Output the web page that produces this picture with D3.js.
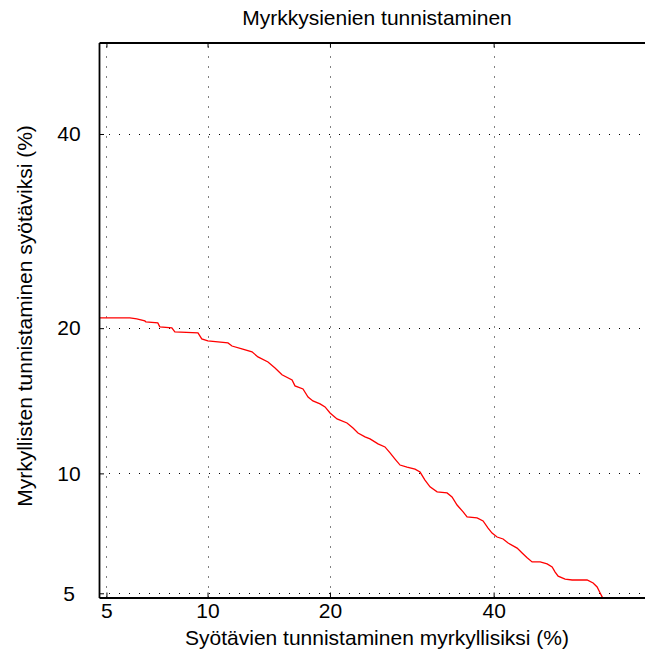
<!DOCTYPE html>
<html>
<head>
<meta charset="utf-8">
<script src="https://cdn.jsdelivr.net/npm/d3@7/dist/d3.min.js"></script>
<style>
  html, body { margin: 0; padding: 0; background: #fff; }
  svg { display: block; font-family: "Liberation Sans", Arial, Helvetica, sans-serif; }
</style>
</head>
<body>
<svg id="chart" width="645" height="655"></svg>
<script>
// DET curve: false alarm rate (edible called poisonous) vs miss rate (poisonous called edible), in percent
const falseAlarmPct = [4.6, 5.93, 6.23, 6.59, 6.64, 7.21, 7.31, 7.93, 8.09, 9.41, 9.64, 10.02, 11.35, 11.63, 12.34,
  13.10, 13.56, 14.36, 14.94, 15.53, 16.41, 16.67, 17.40, 17.87, 18.33, 19.02, 19.51, 20.01, 20.72, 21.76, 22.40,
  22.94, 23.71, 24.27, 25.18, 25.98, 26.58, 27.17, 27.77, 28.62, 29.60, 30.23, 30.85, 31.49, 32.40, 33.70, 34.35,
  35.02, 35.83, 36.36, 37.72, 38.54, 39.23, 39.78, 40.48, 41.32, 42.02, 43.29, 44.00, 44.71, 45.42, 46.57, 47.56,
  48.28, 48.71, 49.14, 50.14, 51.15, 53.29, 54.15, 54.72, 55.15, 55.43, 55.6];
const missPct = [20.88, 20.88, 20.80, 20.62, 20.54, 20.45, 20.11, 20.02, 19.68, 19.60, 19.10, 18.94, 18.77, 18.52,
  18.29, 18.05, 17.65, 17.26, 16.80, 16.28, 15.90, 15.47, 15.25, 14.68, 14.41, 14.21, 14.00, 13.60, 13.21, 12.95,
  12.63, 12.32, 12.08, 11.96, 11.66, 11.48, 11.13, 10.78, 10.45, 10.34, 10.23, 10.07, 9.65, 9.30, 9.05, 9.00, 8.80,
  8.42, 8.10, 7.88, 7.83, 7.70, 7.39, 7.18, 7.02, 6.94, 6.78, 6.58, 6.39, 6.21, 6.06, 6.06, 5.99, 5.88, 5.70, 5.56,
  5.46, 5.43, 5.43, 5.33, 5.20, 5.01, 4.89, 4.8];

const tickValuesPct = [5, 10, 20, 40];
const tickLabels = ["5", "10", "20", "40"];
const xLimitsPct = [4.73, 62.8];
const yLimitsPct = [4.87, 50.95];

const titleText = "Myrkkysienien tunnistaminen";
const xTitle = "Syötävien tunnistaminen myrkyllisiksi (%)";
const yTitle = "Myrkyllisten tunnistaminen syötäviksi (%)";

// inverse standard normal CDF (Acklam's rational approximation)
function probit(p) {
  const a = [-3.969683028665376e+01, 2.209460984245205e+02, -2.759285104469687e+02, 1.383577518672690e+02, -3.066479806614716e+01, 2.506628277459239e+00];
  const b = [-5.447609879822406e+01, 1.615858368580409e+02, -1.556989798598866e+02, 6.680131188771972e+01, -1.328068155288572e+01];
  const c = [-7.784894002430293e-03, -3.223964580411365e-01, -2.400758277161838e+00, -2.549732539343734e+00, 4.374664141464968e+00, 2.938163982698783e+00];
  const d = [7.784695709041462e-03, 3.224671290700398e-01, 2.445134137142996e+00, 3.754408661907416e+00];
  const pl = 0.02425, ph = 1 - pl;
  let q, r;
  if (p < pl) {
    q = Math.sqrt(-2 * Math.log(p));
    return (((((c[0]*q + c[1])*q + c[2])*q + c[3])*q + c[4])*q + c[5]) / ((((d[0]*q + d[1])*q + d[2])*q + d[3])*q + 1);
  }
  if (p <= ph) {
    q = p - 0.5; r = q * q;
    return (((((a[0]*r + a[1])*r + a[2])*r + a[3])*r + a[4])*r + a[5])*q / (((((b[0]*r + b[1])*r + b[2])*r + b[3])*r + b[4])*r + 1);
  }
  q = Math.sqrt(-2 * Math.log(1 - p));
  return -(((((c[0]*q + c[1])*q + c[2])*q + c[3])*q + c[4])*q + c[5]) / ((((d[0]*q + d[1])*q + d[2])*q + d[3])*q + 1);
}
const z = pct => probit(pct / 100);

const plot = { left: 99, top: 42.5, right: 655, bottom: 597.5 };

// normal-deviate scales
const xScale = d3.scaleLinear().domain(xLimitsPct.map(z)).range([plot.left, plot.right]);
const yScale = d3.scaleLinear().domain(yLimitsPct.map(z)).range([plot.bottom, plot.top]);
const tickZ = tickValuesPct.map(z);

const svg = d3.select("#chart");

svg.append("defs").append("clipPath").attr("id", "plotClip")
  .append("rect")
  .attr("x", plot.left).attr("y", plot.top)
  .attr("width", plot.right - plot.left).attr("height", plot.bottom - plot.top);

// dotted grid
const grid = svg.append("g").attr("stroke", "#000").attr("stroke-width", 1).attr("stroke-dasharray", "1,9");
grid.selectAll("line.gx").data(tickZ).join("line").attr("class", "gx")
  .attr("x1", d => Math.round(xScale(d)) + 0.5).attr("x2", d => Math.round(xScale(d)) + 0.5)
  .attr("y1", plot.bottom).attr("y2", plot.top);
grid.selectAll("line.gy").data(tickZ).join("line").attr("class", "gy")
  .attr("y1", d => Math.round(yScale(d)) + 0.5).attr("y2", d => Math.round(yScale(d)) + 0.5)
  .attr("x1", plot.left).attr("x2", plot.right);

// DET curve
const points = falseAlarmPct.map((fa, i) => [z(fa), z(missPct[i])]);
svg.append("path")
  .datum(points)
  .attr("clip-path", "url(#plotClip)")
  .attr("fill", "none")
  .attr("stroke", "#ff0000")
  .attr("stroke-width", 1.3)
  .attr("d", d3.line().x(d => xScale(d[0])).y(d => yScale(d[1])));

// axes with inward ticks
const fmt = (d, i) => tickLabels[i];
const axisStyle = g => {
  g.selectAll(".domain").attr("stroke", "#000").attr("stroke-width", 1.8);
  g.selectAll(".tick line").attr("stroke", "#000").attr("stroke-width", 1);
  g.selectAll(".tick text").attr("fill", "#000").style("font-size", "21px")
    .style("font-family", '"Liberation Sans", Arial, sans-serif');
};

svg.append("g")
  .attr("transform", `translate(0,${plot.bottom})`)
  .call(d3.axisBottom(xScale).tickValues(tickZ).tickFormat(fmt).tickSize(-5).tickSizeOuter(0).tickPadding(6))
  .call(axisStyle);

svg.append("g")
  .attr("transform", `translate(0,${plot.top})`)
  .call(d3.axisTop(xScale).tickValues(tickZ).tickFormat("").tickSize(-5).tickSizeOuter(0))
  .call(axisStyle);

svg.append("g")
  .attr("transform", `translate(${plot.left},0)`)
  .call(d3.axisLeft(yScale).tickValues(tickZ).tickFormat(fmt).tickSize(-5).tickSizeOuter(0).tickPadding(30))
  .call(axisStyle)
  .call(g => g.selectAll(".tick text").attr("text-anchor", "middle"));

// titles
svg.append("text")
  .attr("x", (plot.left + plot.right) / 2).attr("y", 25)
  .attr("text-anchor", "middle").style("font-size", "21px").attr("fill", "#000")
  .text(titleText);

svg.append("text")
  .attr("x", (plot.left + plot.right) / 2).attr("y", 645)
  .attr("text-anchor", "middle").style("font-size", "21px").attr("fill", "#000")
  .text(xTitle);

svg.append("text")
  .attr("transform", `translate(32,${(plot.top + plot.bottom) / 2 - 4}) rotate(-90)`)
  .attr("text-anchor", "middle").style("font-size", "21px").attr("fill", "#000")
  .text(yTitle);
</script>
</body>
</html>
